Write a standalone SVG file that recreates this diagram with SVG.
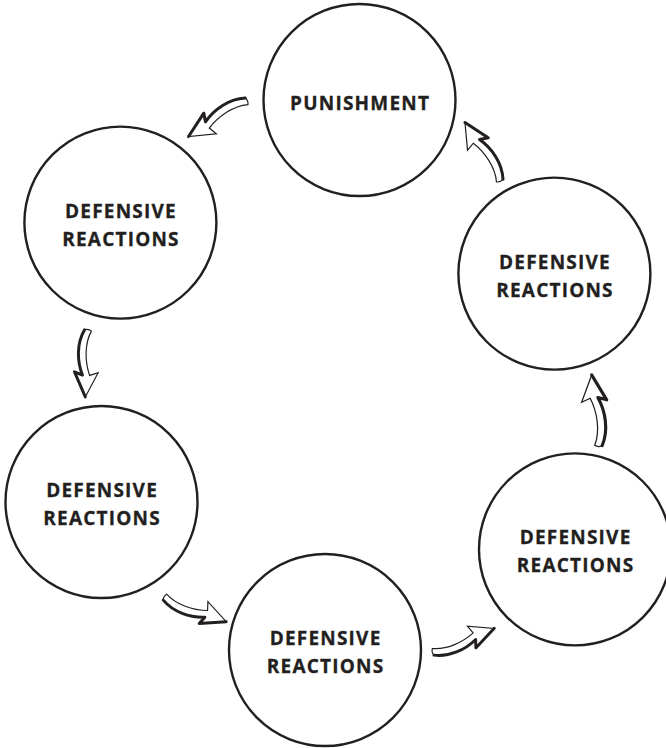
<svg xmlns="http://www.w3.org/2000/svg" width="666" height="748" viewBox="0 0 666 748">
<defs>
<style>
.node circle{fill:#fff;stroke:#231f20;stroke-width:2.4}
.node text{font-family:"Open Sans","Liberation Sans",sans-serif;font-weight:bold;font-size:19px;letter-spacing:1.2px;fill:#231f20;stroke:#231f20;stroke-width:0.3;text-anchor:middle}
.arr{fill:#fff;stroke:#231f20;stroke-width:1.2;stroke-linejoin:miter}
.sh{fill:none;stroke:#231f20;stroke-width:3;stroke-linejoin:round;stroke-linecap:round}
</style>
<g id="arrowShape">
<path class="arr" d="M0,3.5 C14,11 32,10 46,3.8 L43,12 L68,0 L43,-12 L46,-3.5 C32,2 14,3 1,-3.5 C-1,-1 -1,1 0,3.5 Z"/>
<path class="sh" d="M0,3.5 C14,11 32,10 46,3.8 L43,12 L68,0"/>
</g>
</defs>
<rect width="666" height="748" fill="#fff"/>
<g id="n1" class="node"><circle cx="359.5" cy="100" r="96"/><text x="360.1" y="109.5">PUNISHMENT</text></g>
<g id="n2" class="node"><circle cx="120.4" cy="222.6" r="96"/><text x="121" y="218">DEFENSIVE</text><text x="121" y="245.5">REACTIONS</text></g>
<g id="n3" class="node"><circle cx="554.4" cy="273.6" r="96"/><text x="555" y="269.3">DEFENSIVE</text><text x="555" y="296.8">REACTIONS</text></g>
<g id="n4" class="node"><circle cx="101.5" cy="502" r="96"/><text x="102.1" y="497">DEFENSIVE</text><text x="102.1" y="524.6">REACTIONS</text></g>
<g id="n5" class="node"><circle cx="325" cy="650" r="96"/><text x="325.6" y="645">DEFENSIVE</text><text x="325.6" y="672.6">REACTIONS</text></g>
<g id="n6" class="node"><circle cx="575" cy="549.4" r="96"/><text x="575.6" y="544">DEFENSIVE</text><text x="575.6" y="572">REACTIONS</text></g>
<g id="connectors">
<use href="#arrowShape" transform="translate(247,101) rotate(148.7) scale(1.006)"/>
<use href="#arrowShape" transform="translate(88,330) rotate(92.3) scale(0.985)"/>
<use href="#arrowShape" transform="translate(164.5,597) rotate(21.8) scale(0.978)"/>
<use href="#arrowShape" transform="translate(432.7,652) rotate(-21) scale(0.97)"/>
<use href="#arrowShape" transform="translate(598.5,446) rotate(-95.5) scale(1.05)"/>
<use href="#arrowShape" transform="translate(500,181) rotate(-120.9) scale(1.003)"/>
</g>
</svg>
